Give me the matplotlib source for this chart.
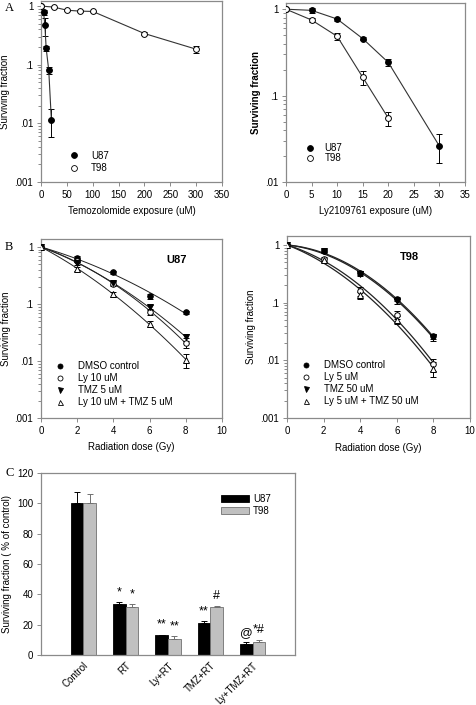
import numpy as np
import matplotlib
matplotlib.use("Agg")
import matplotlib.pyplot as plt
from matplotlib.lines import Line2D
from matplotlib.ticker import FixedLocator, NullFormatter

plt.rcParams['font.family'] = ['Liberation Sans', 'DejaVu Sans']

# --- Panel A: drug exposure survival ---
tmz_dose_u87 = [0, 5, 7.5, 10, 15, 20]
tmz_u87 = [1.0, 0.78, 0.47, 0.19, 0.08, 0.0116]
tmz_u87_err = [0, 0.08, 0.16, 0.02, 0.01, 0.0058]
tmz_dose_t98 = [0, 25, 50, 75, 100, 200, 300]
tmz_t98 = [1.0, 0.96, 0.85, 0.82, 0.81, 0.34, 0.184]
tmz_t98_err = [0, 0.02, 0.02, 0.03, 0.03, 0.02, 0.025]

ly_dose_u87 = [0, 5, 10, 15, 20, 30]
ly_u87 = [1.0, 0.97, 0.77, 0.457, 0.242, 0.026]
ly_u87_err = [0, 0.06, 0.03, 0.02, 0.02, 0.0095]
ly_dose_t98 = [0, 5, 10, 15, 20]
ly_t98 = [1.0, 0.75, 0.486, 0.163, 0.055]
ly_t98_err = [0, 0.04, 0.04, 0.03, 0.01]

# --- Panel B: radiation survival ---
rad_dose = [0, 2, 4, 6, 8]
u87_labels = ['DMSO control', 'Ly 10 uM', 'TMZ 5 uM', 'Ly 10 uM + TMZ 5 uM']
u87_dmso = [1.0, 0.65, 0.36, 0.136, 0.072]
u87_ly = [1.0, 0.57, 0.227, 0.072, 0.021]
u87_tmz = [1.0, 0.52, 0.23, 0.089, 0.026]
u87_combo = [1.0, 0.41, 0.147, 0.045, 0.0105]
u87_dmso_err = [0, 0.04, 0.02, 0.015, 0.004]
u87_ly_err = [0, 0.03, 0.015, 0.008, 0.004]
u87_tmz_err = [0, 0.03, 0.02, 0.008, 0.004]
u87_combo_err = [0, 0.03, 0.015, 0.005, 0.003]

t98_labels = ['DMSO control', 'Ly 5 uM', 'TMZ 50 uM', 'Ly 5 uM + TMZ 50 uM']
t98_dmso = [1.0, 0.80, 0.33, 0.115, 0.026]
t98_ly = [1.0, 0.57, 0.16, 0.062, 0.0085]
t98_tmz = [1.0, 0.78, 0.32, 0.105, 0.025]
t98_combo = [1.0, 0.55, 0.135, 0.05, 0.0072]
t98_dmso_err = [0, 0.04, 0.03, 0.01, 0.003]
t98_ly_err = [0, 0.04, 0.03, 0.01, 0.002]
t98_tmz_err = [0, 0.04, 0.03, 0.01, 0.003]
t98_combo_err = [0, 0.04, 0.02, 0.008, 0.002]

# --- Panel C: combined treatment bars ---
groups = ['Control', 'RT', 'Ly+RT', 'TMZ+RT', 'Ly+TMZ+RT']
bar_u87 = [100, 33.3, 13.2, 21.3, 7.5]
bar_u87_err = [7.5, 1.5, 0.3, 0.8, 0.8]
bar_t98 = [100, 31.5, 10.5, 31.5, 8.5]
bar_t98_err = [6, 2.3, 1.8, 0.8, 1.2]
marks_u87 = ['', '*', '**', '**', '@']
marks_t98 = ['', '*', '**', '#', '*#']

W, H = 476, 705
SPINE = '#8a8a8a'
fig = plt.figure(figsize=(W / 100, H / 100), dpi=100)


def box(x0, y0, x1, y1):
    return [x0 / W, 1 - y1 / H, (x1 - x0) / W, (y1 - y0) / H]


def style_axes(ax):
    for s in ax.spines.values():
        s.set_color(SPINE)
        s.set_linewidth(0.9)
    ax.tick_params(which='both', direction='out', colors=SPINE, labelcolor='black',
                   labelsize=7, length=3, width=0.7, pad=2.5)
    ax.tick_params(which='minor', length=2)


def log_yaxis(ax, lo, hi, labels):
    ax.set_yscale('log')
    ax.set_ylim(lo, hi)
    ticks = [10 ** k for k in range(int(round(np.log10(lo))), 1)]
    ax.yaxis.set_major_locator(FixedLocator(ticks))
    ax.set_yticklabels(labels)
    minors = [m * t for t in ticks[:-1] for m in range(2, 10)]
    ax.yaxis.set_minor_locator(FixedLocator(minors))
    ax.yaxis.set_minor_formatter(NullFormatter())


def plot_series(ax, x, y, err, filled, marker='o', ms=4.2, line=True):
    fc = 'black' if filled else 'white'
    ax.errorbar(x, y, yerr=err, fmt='none', ecolor='black', elinewidth=0.7,
                capsize=2.2, capthick=0.7, zorder=2)
    ax.plot(x, y, linestyle='-' if line else 'none', color='#333333', lw=0.8,
            marker=marker, ms=ms, mfc=fc, mec='black', mew=0.7, zorder=3)


def marker_handle(filled, marker='o', ms=4.2):
    return Line2D([], [], linestyle='none', marker=marker, ms=ms,
                  mfc='black' if filled else 'white', mec='black', mew=0.6)


# ---------- A left ----------
ax = fig.add_axes(box(41, 1, 222, 182))
style_axes(ax)
plot_series(ax, tmz_dose_u87, tmz_u87, tmz_u87_err, True)
plot_series(ax, tmz_dose_t98, tmz_t98, tmz_t98_err, False)
log_yaxis(ax, 0.001, 1.22, ['.001', '.01', '.1', '1'])
ax.set_xlim(0, 350)
ax.set_xticks(range(0, 351, 50))
ax.set_xlabel('Temozolomide exposure (uM)', fontsize=7)
ax.xaxis.set_label_coords(0.5, -0.135)
ax.set_ylabel('Surviving fraction', fontsize=7)
ax.yaxis.set_label_coords(-0.171, 0.5)
ax.legend([marker_handle(True), marker_handle(False)], ['U87', 'T98'],
          loc='upper left', bbox_to_anchor=(0.13, 0.20), frameon=False,
          fontsize=7, handlelength=1.0, handletextpad=1.2, labelspacing=0.25,
          borderpad=0)

# ---------- A right ----------
ax = fig.add_axes(box(286, 3, 465, 182))
style_axes(ax)
plot_series(ax, ly_dose_u87, ly_u87, ly_u87_err, True)
plot_series(ax, ly_dose_t98, ly_t98, ly_t98_err, False)
log_yaxis(ax, 0.01, 1.18, ['.01', '.1', '1'])
ax.set_xlim(0, 35)
ax.set_xticks(range(0, 36, 5))
ax.set_xlabel('Ly2109761 exposure (uM)', fontsize=7)
ax.xaxis.set_label_coords(0.5, -0.135)
ax.set_ylabel('Surviving fraction', fontsize=7, fontweight='bold')
ax.yaxis.set_label_coords(-0.14, 0.5)
ax.legend([marker_handle(True), marker_handle(False)], ['U87', 'T98'],
          loc='upper left', bbox_to_anchor=(0.08, 0.245), frameon=False,
          fontsize=7, handlelength=1.0, handletextpad=1.0, labelspacing=0.0,
          borderpad=0)


def lq_curve(dose, surv):
    d = np.asarray(dose, float)[1:]
    s = np.asarray(surv, float)[1:]
    A = np.column_stack([d, d ** 2])
    coef, *_ = np.linalg.lstsq(A, -np.log(s), rcond=None)
    xx = np.linspace(0, max(dose), 100)
    return xx, np.exp(-(coef[0] * xx + coef[1] * xx ** 2))


def radiation_panel(ax, series, labels, title, title_xy, lw):
    markers = [('o', True), ('o', False), ('v', True), ('^', False)]
    handles = []
    for (y, err), (m, filled) in zip(series, markers):
        xx, yy = lq_curve(rad_dose, y)
        ax.plot(xx, yy, color='#222222', lw=lw, zorder=1)
        plot_series(ax, rad_dose, y, err, filled, marker=m, ms=4.0, line=False)
        handles.append(marker_handle(filled, m, ms=3.6))
    log_yaxis(ax, 0.001, ax.get_ylim()[1], ['.001', '.01', '.1', '1'])
    ax.set_xlim(0, 10)
    ax.set_xticks(range(0, 11, 2))
    ax.set_xlabel('Radiation dose (Gy)', fontsize=7)
    ax.xaxis.set_label_coords(0.5, -0.135)
    ax.text(title_xy[0], title_xy[1], title, transform=ax.transAxes, fontsize=8,
            fontweight='bold', ha='center', va='center')
    ax.legend(handles, labels, loc='upper left', bbox_to_anchor=(0.05, 0.345),
              frameon=False, fontsize=7, handlelength=1.0, handletextpad=1.4,
              labelspacing=0.2, borderpad=0)


# ---------- B left ----------
ax = fig.add_axes(box(41, 239, 222, 418))
style_axes(ax)
ax.set_ylim(0.001, 1.38)
radiation_panel(ax, [(u87_dmso, u87_dmso_err), (u87_ly, u87_ly_err),
                     (u87_tmz, u87_tmz_err), (u87_combo, u87_combo_err)],
                u87_labels, 'U87', (0.75, 0.883), 0.7)
ax.set_ylabel('Surviving fraction', fontsize=7)
ax.yaxis.set_label_coords(-0.166, 0.5)

# ---------- B right ----------
ax = fig.add_axes(box(287, 236, 470, 418))
style_axes(ax)
ax.set_ylim(0.001, 1.43)
radiation_panel(ax, [(t98_dmso, t98_dmso_err), (t98_ly, t98_ly_err),
                     (t98_tmz, t98_tmz_err), (t98_combo, t98_combo_err)],
                t98_labels, 'T98', (0.667, 0.885), 0.9)
ax.set_ylabel('Surviving fraction', fontsize=7)
ax.yaxis.set_label_coords(-0.17, 0.5)

# ---------- C ----------
ax = fig.add_axes(box(41, 473, 295, 655))
style_axes(ax)
x = np.arange(len(groups))
w = 0.3
ax.bar(x - w / 2, bar_u87, w, color='black', edgecolor='black', lw=0.6,
       yerr=[np.zeros(len(x)), bar_u87_err], ecolor='black',
       error_kw=dict(elinewidth=0.7, capsize=2.5, capthick=0.7), label='U87')
ax.bar(x + w / 2, bar_t98, w, color='#c0c0c0', edgecolor='#707070', lw=0.6,
       yerr=[np.zeros(len(x)), bar_t98_err], ecolor='#707070',
       error_kw=dict(elinewidth=0.7, capsize=2.5, capthick=0.7), label='T98')
for i in range(len(groups)):
    for dx, vals, errs, marks in [(-w / 2, bar_u87, bar_u87_err, marks_u87),
                                  (w / 2, bar_t98, bar_t98_err, marks_t98)]:
        if marks[i]:
            ax.text(i + dx, vals[i] + errs[i] + 2.5, marks[i], ha='center',
                    va='bottom', fontsize=9)
ax.set_xlim(-1, 5)
ax.set_ylim(0, 120)
ax.set_yticks(range(0, 121, 20))
ax.set_xticks(x)
ax.set_xticklabels(groups, rotation=45, ha='right', rotation_mode='anchor',
                   fontsize=7)
ax.tick_params(axis='x', length=0, pad=4)
ax.set_ylabel('Surviving fraction ( % of control)', fontsize=7)
ax.yaxis.set_label_coords(-0.114, 0.5)
ax.legend(loc='upper left', bbox_to_anchor=(0.69, 0.91), frameon=False,
          fontsize=7, handlelength=2.9, handleheight=0.7, handletextpad=0.4,
          labelspacing=0.15, borderpad=0)

# panel letters
for letter, ypx in [('A', 8), ('B', 247), ('C', 473)]:
    fig.text(5 / W, 1 - ypx / H, letter, fontsize=9, family='Liberation Serif',
             ha='left', va='center')

fig.savefig('out.png', dpi=100)
